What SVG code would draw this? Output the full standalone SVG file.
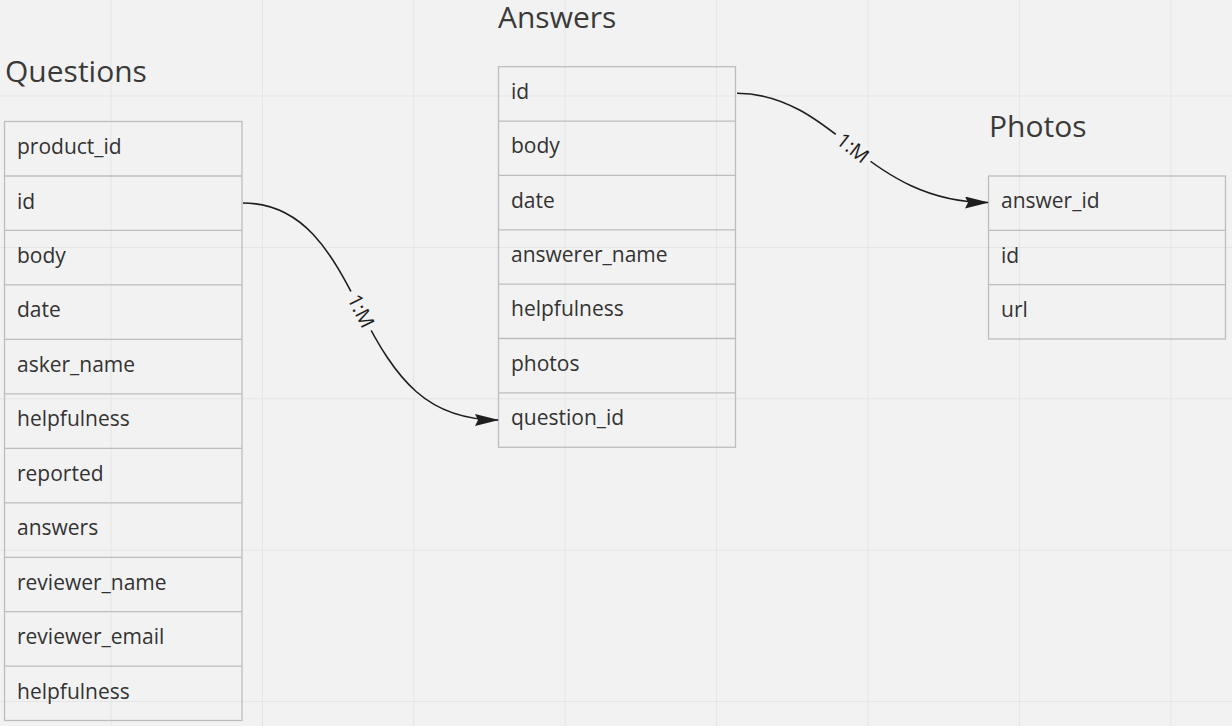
<svg xmlns="http://www.w3.org/2000/svg" width="1232" height="726" viewBox="0 0 1232 726">
  <defs>
    <style>
      .grid { stroke: #e5e5e5; stroke-width: 1; fill: none; }
      .box { fill: none; stroke: #bdbdbd; stroke-width: 1.3; }
      .sep { stroke: #bdbdbd; stroke-width: 1.3; }
      .title { font-family: "Open Sans", "Noto Sans", sans-serif; font-size: 30px; fill: #3a3a3a; }
      .field { font-family: "Open Sans", "Noto Sans", sans-serif; font-size: 21px; fill: #333333; }
      .conn { fill: none; stroke: #1e1e1e; stroke-width: 1.6; }
      .lbl { font-family: "Open Sans", "Noto Sans", sans-serif; font-size: 20px; fill: #1e1e1e; }
      .lblbg { fill: #f2f2f2; }
    </style>
    <marker id="arrow" viewBox="0 0 24 12" refX="23" refY="6" markerWidth="24" markerHeight="12" markerUnits="userSpaceOnUse" orient="auto">
      <path d="M0,0 L24,6 L0,12 L3,6 Z" fill="#1e1e1e"/>
    </marker>
  </defs>

  <rect x="0" y="0" width="1232" height="726" fill="#f2f2f2"/>

  <g id="grid" class="grid">
    <line x1="111" y1="0" x2="111" y2="726"/>
    <line x1="262.4" y1="0" x2="262.4" y2="726"/>
    <line x1="413.8" y1="0" x2="413.8" y2="726"/>
    <line x1="565.2" y1="0" x2="565.2" y2="726"/>
    <line x1="716.6" y1="0" x2="716.6" y2="726"/>
    <line x1="868" y1="0" x2="868" y2="726"/>
    <line x1="1019.4" y1="0" x2="1019.4" y2="726"/>
    <line x1="1170.8" y1="0" x2="1170.8" y2="726"/>
    <line x1="0" y1="96" x2="1232" y2="96"/>
    <line x1="0" y1="247.4" x2="1232" y2="247.4"/>
    <line x1="0" y1="398.8" x2="1232" y2="398.8"/>
    <line x1="0" y1="550.2" x2="1232" y2="550.2"/>
    <line x1="0" y1="701.6" x2="1232" y2="701.6"/>
  </g>

  <g id="questions">
    <text class="title" x="5" y="82">Questions</text>
    <rect class="box" x="4.5" y="121.5" width="237.5" height="599"/>
    <line class="sep" x1="4.5" y1="176" x2="242" y2="176"/>
    <line class="sep" x1="4.5" y1="230.4" x2="242" y2="230.4"/>
    <line class="sep" x1="4.5" y1="284.9" x2="242" y2="284.9"/>
    <line class="sep" x1="4.5" y1="339.4" x2="242" y2="339.4"/>
    <line class="sep" x1="4.5" y1="393.9" x2="242" y2="393.9"/>
    <line class="sep" x1="4.5" y1="448.3" x2="242" y2="448.3"/>
    <line class="sep" x1="4.5" y1="502.8" x2="242" y2="502.8"/>
    <line class="sep" x1="4.5" y1="557.3" x2="242" y2="557.3"/>
    <line class="sep" x1="4.5" y1="611.7" x2="242" y2="611.7"/>
    <line class="sep" x1="4.5" y1="666.2" x2="242" y2="666.2"/>
    <text class="field" x="17" y="154">product_id</text>
    <text class="field" x="17" y="208.5">id</text>
    <text class="field" x="17" y="263">body</text>
    <text class="field" x="17" y="317.4">date</text>
    <text class="field" x="17" y="371.9">asker_name</text>
    <text class="field" x="17" y="426.4">helpfulness</text>
    <text class="field" x="17" y="480.8">reported</text>
    <text class="field" x="17" y="535.3">answers</text>
    <text class="field" x="17" y="589.8">reviewer_name</text>
    <text class="field" x="17" y="644.2">reviewer_email</text>
    <text class="field" x="17" y="698.7">helpfulness</text>
  </g>

  <g id="answers">
    <text class="title" x="498" y="28">Answers</text>
    <rect class="box" x="498.5" y="66.7" width="237" height="380.6"/>
    <line class="sep" x1="498.5" y1="121.1" x2="735.5" y2="121.1"/>
    <line class="sep" x1="498.5" y1="175.4" x2="735.5" y2="175.4"/>
    <line class="sep" x1="498.5" y1="229.8" x2="735.5" y2="229.8"/>
    <line class="sep" x1="498.5" y1="284.2" x2="735.5" y2="284.2"/>
    <line class="sep" x1="498.5" y1="338.5" x2="735.5" y2="338.5"/>
    <line class="sep" x1="498.5" y1="392.9" x2="735.5" y2="392.9"/>
    <text class="field" x="511" y="99">id</text>
    <text class="field" x="511" y="153.3">body</text>
    <text class="field" x="511" y="207.7">date</text>
    <text class="field" x="511" y="262">answerer_name</text>
    <text class="field" x="511" y="316.4">helpfulness</text>
    <text class="field" x="511" y="370.8">photos</text>
    <text class="field" x="511" y="425.1">question_id</text>
  </g>

  <g id="photos">
    <text class="title" x="989" y="137">Photos</text>
    <rect class="box" x="988.5" y="176" width="237" height="163"/>
    <line class="sep" x1="988.5" y1="230.3" x2="1225.5" y2="230.3"/>
    <line class="sep" x1="988.5" y1="284.7" x2="1225.5" y2="284.7"/>
    <text class="field" x="1001" y="208.3">answer_id</text>
    <text class="field" x="1001" y="262.7">id</text>
    <text class="field" x="1001" y="317">url</text>
  </g>

  <g id="connectors">
    <g id="q-to-a">
      <path class="conn" d="M243,203 C303,203 331,251 361,311 C396,381 428,420 498,420" marker-end="url(#arrow)"/>
      <g transform="translate(361,311) rotate(63.4)">
        <rect class="lblbg" x="-22" y="-11" width="44" height="22"/>
        <text class="lbl" x="0" y="7" text-anchor="middle">1:M</text>
      </g>
    </g>
    <g id="a-to-p">
      <path class="conn" d="M737,93.3 C787,93.3 823,124 853,148 C888,176 928,202.5 988,202.5" marker-end="url(#arrow)"/>
      <g transform="translate(853,148) rotate(38.7)">
        <rect class="lblbg" x="-22" y="-11" width="44" height="22"/>
        <text class="lbl" x="0" y="7" text-anchor="middle">1:M</text>
      </g>
    </g>
  </g>
</svg>
